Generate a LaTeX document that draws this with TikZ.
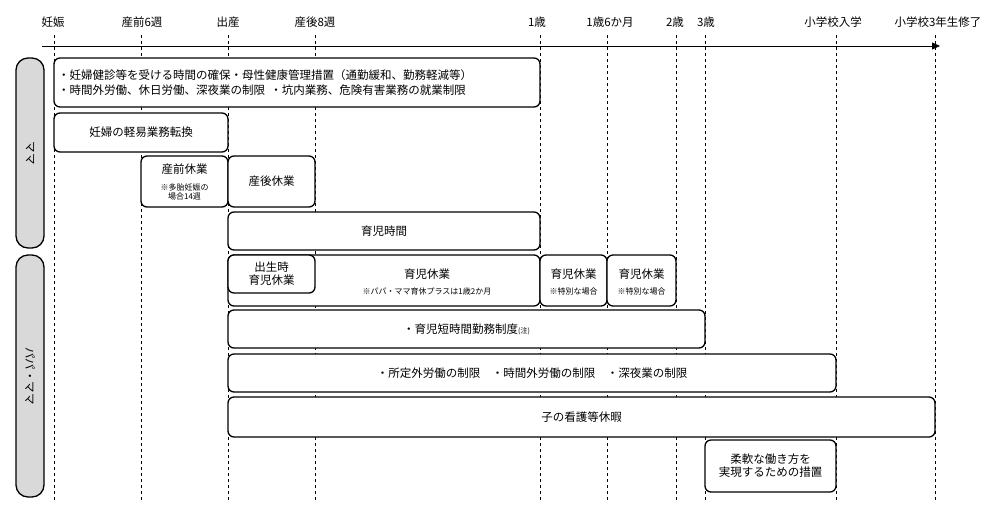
\documentclass[tikz,border=0pt]{standalone}
\usepackage{fontspec}
\setmainfont{Noto Sans CJK JP}
\usetikzlibrary{arrows.meta}
\begin{document}
\begin{tikzpicture}[x=1pt,y=-1pt,
 bx/.style={draw,line width=1.3pt,rounded corners=6pt},
 side/.style={draw,line width=1.3pt,fill=gray!30,rounded corners=12pt},
 lab/.style={font=\fontsize{11.5}{13}\selectfont,inner sep=0pt},
 sm/.style={font=\fontsize{8}{9.5}\selectfont,inner sep=0pt},
 tick/.style={dashed,line width=0.6pt}]
\useasboundingbox (0,0) rectangle (1000,515);
\foreach \x/\t [count=\i] in {54/妊娠,141/産前6週,228/出産,315/産後8週,540/1歳,607/1歳6か月,676/2歳,705/3歳,836/小学校入学,935/小学校3年生修了}{
 \coordinate (a\i) at (\x,35); \coordinate (b\i) at (\x,500);
 \draw[tick] (a\i) -- (b\i);}
\foreach \x/\t [count=\i] in {53/妊娠,142/産前6週,228/出産,315/産後8週,537/1歳,610/1歳6か月,675/2歳,706/3歳,833/小学校入学,938/小学校3年生修了}{
 \node[lab] (t\i) at (\x,22) {\t};}
\coordinate (ax0) at (42,46); \coordinate (ax1) at (940,46);
\draw[-{Triangle[length=8pt,width=7pt]},line width=0.8pt] (ax0) -- (ax1);
\draw[side] (16,58) rectangle (44,248) node[midway,lab,rotate=-90] (mama) {ママ};
\draw[side] (16,255) rectangle (44,497) node[midway,lab,rotate=-90] (papa) {パパ・ママ};
\draw[bx,fill=white] (54,58) rectangle (540,107);
\node[lab,align=left,anchor=west] (n1) at (58,82.5) {・妊婦健診等を受ける時間の確保・母性健康管理措置（通勤緩和、勤務軽減等）\\[2pt]・時間外労働、休日労働、深夜業の制限\ \ ・坑内業務、危険有害業務の就業制限};
\draw[bx,fill=white] (54,113) rectangle (228,152) node[midway,lab] (n2) {妊婦の軽易業務転換};
\draw[bx,fill=white] (141,156) rectangle (228,207);
\node[lab] (n3) at (184.5,169) {産前休業};
\node[sm,align=center] (n3b) at (184.5,192) {※多胎妊娠の\\場合14週};
\draw[bx,fill=white] (228,156) rectangle (315,207) node[midway,lab] (n4) {産後休業};
\draw[bx,fill=white] (228,212) rectangle (540,250) node[midway,lab] (n5) {育児時間};
\draw[bx,fill=white] (228,255) rectangle (540,306);
\node[lab] (n6) at (427,274) {育児休業};
\node[sm] (n6b) at (427,291) {※パパ・ママ育休プラスは1歳2か月};
\draw[bx,fill=white] (228,255) rectangle (315,293);
\node[lab,align=center] (n7) at (271.5,274) {出生時\\育児休業};
\draw[bx,fill=white] (540,255) rectangle (607,306);
\node[lab] (n8) at (573.5,274) {育児休業};
\node[sm] (n8b) at (573.5,291) {※特別な場合};
\draw[bx,fill=white] (607,255) rectangle (676,306);
\node[lab] (n9) at (641.5,274) {育児休業};
\node[sm] (n9b) at (641.5,291) {※特別な場合};
\draw[bx,fill=white] (228,310) rectangle (705,348) node[midway,lab] (n10) {・育児短時間勤務制度{\fontsize{7}{8}\selectfont(注)}};
\draw[bx,fill=white] (228,354) rectangle (836,392) node[midway,lab] (n11) {・所定外労働の制限\quad ・時間外労働の制限\quad ・深夜業の制限};
\draw[bx,fill=white] (228,397) rectangle (935,437) node[midway,lab] (n12) {子の看護等休暇};
\draw[bx,fill=white] (705,440) rectangle (836,492) node[midway,lab,align=center] (n13) {柔軟な働き方を\\実現するための措置};
\end{tikzpicture}
\end{document}
